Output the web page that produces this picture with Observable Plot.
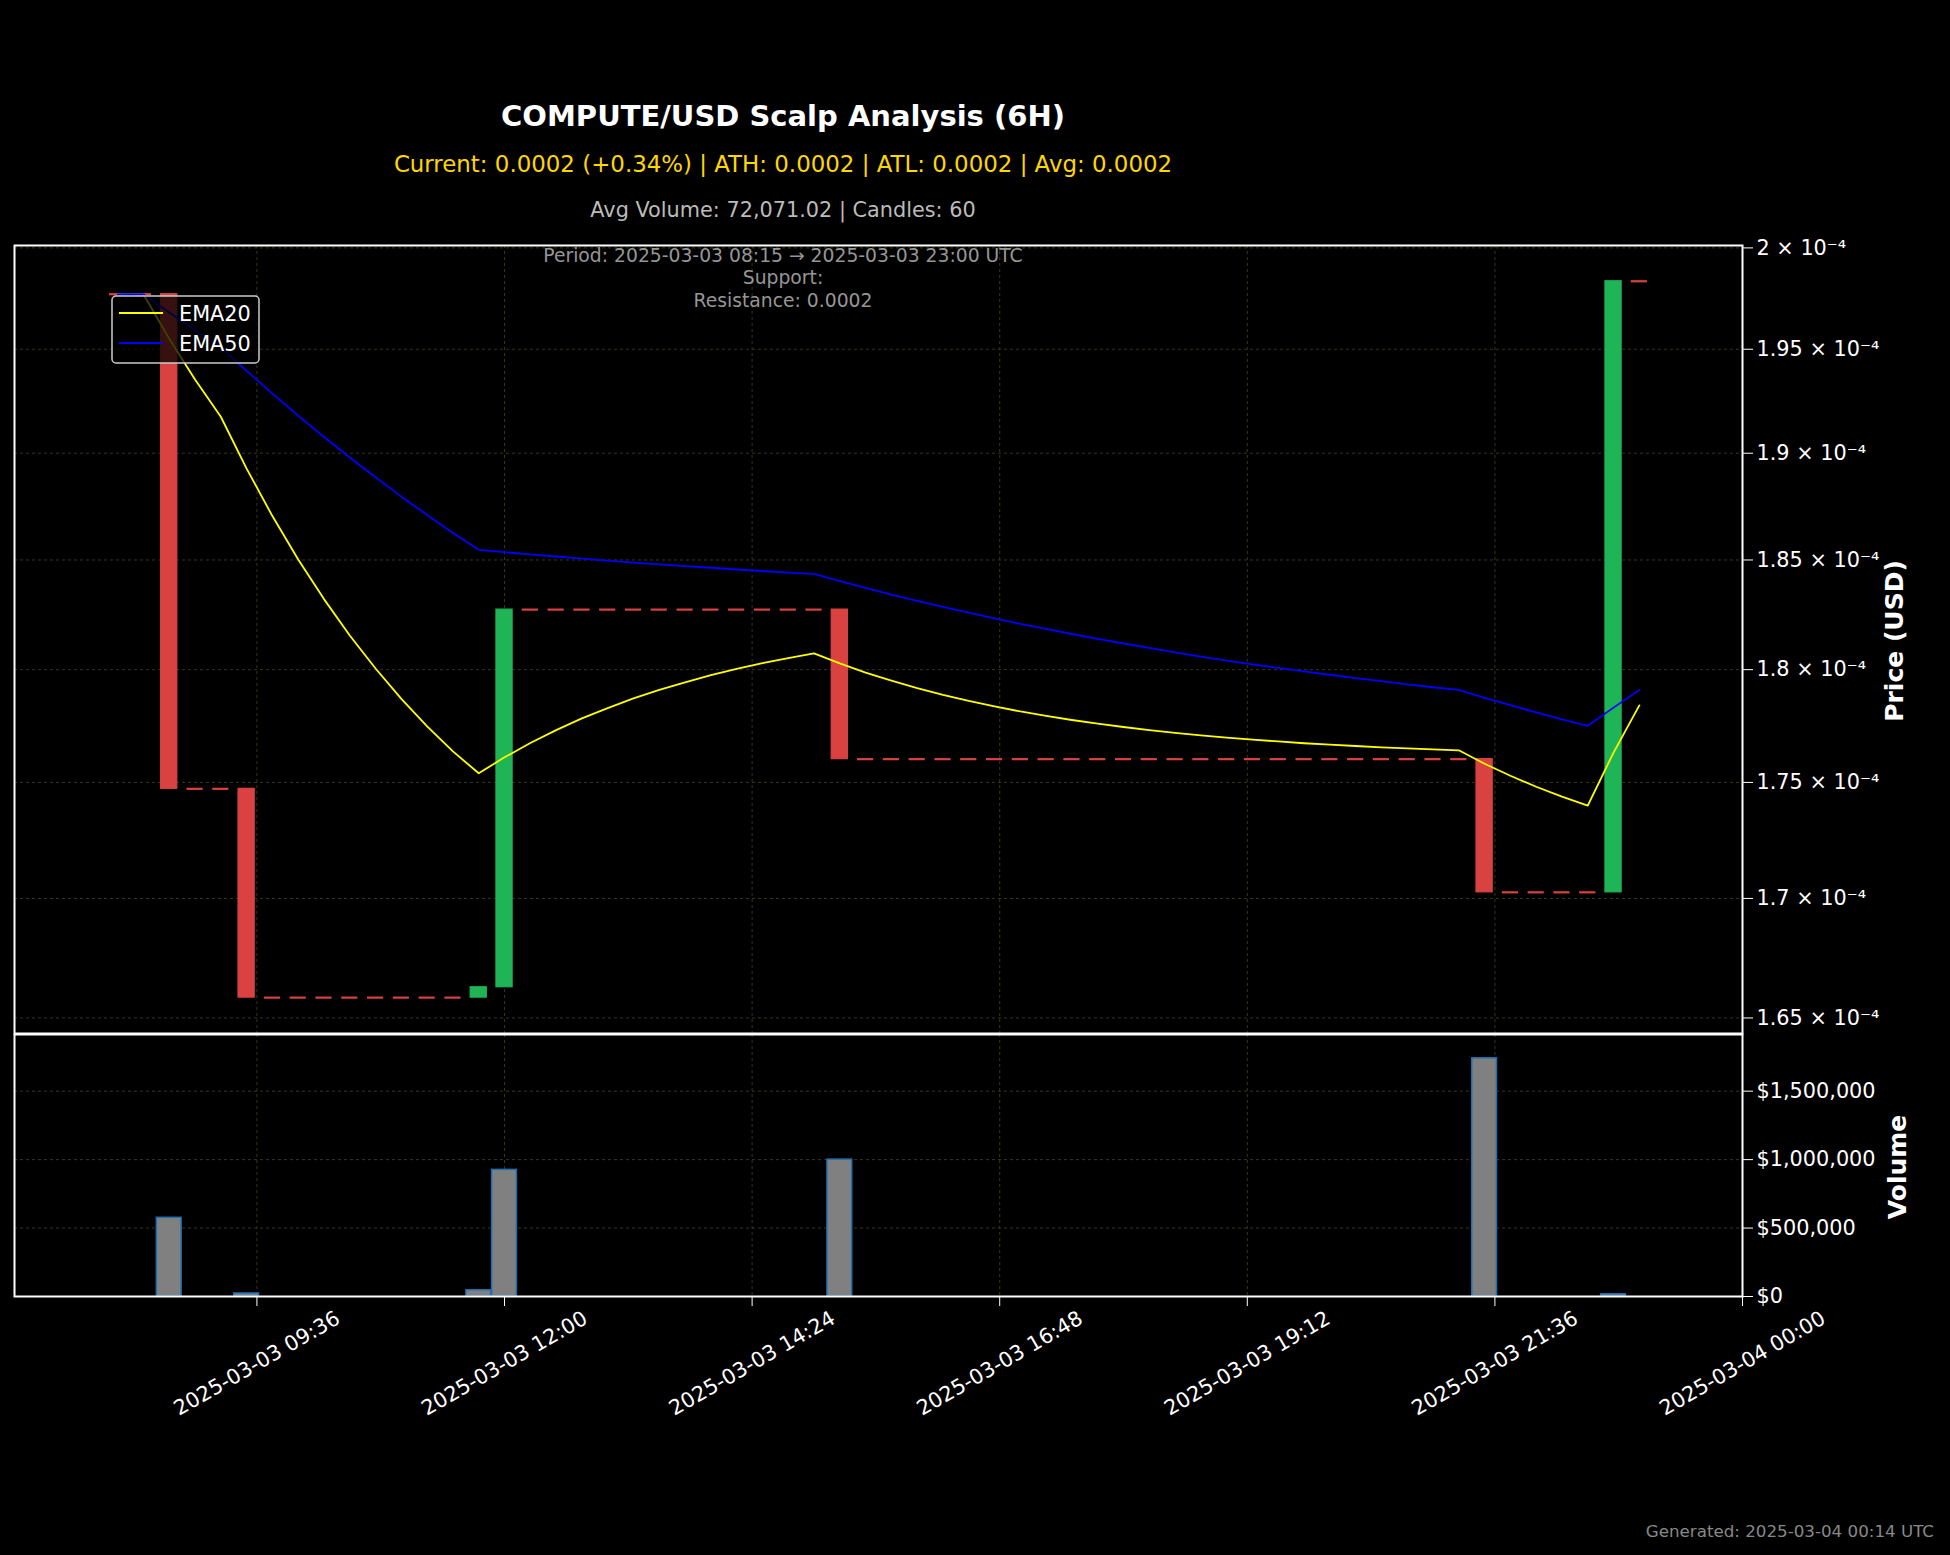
<!DOCTYPE html>
<html><head><meta charset="utf-8">
<script src="https://cdn.jsdelivr.net/npm/d3@7"></script>
<script src="https://cdn.jsdelivr.net/npm/@observablehq/plot@0.6"></script>
<style>
html,body{margin:0;padding:0;background:#000;}
#chart{position:relative;width:1950px;height:1555px;background:#000;overflow:hidden;font-family:"DejaVu Sans",sans-serif;}
#chart svg{position:absolute;left:0;}
</style></head><body><div id="chart"></div>
<script>
// ---------- data (prices in units of 1e-4 USD) ----------
const START = "2025-03-03T08:15:00Z";
const END_EXCL = "2025-03-03T23:15:00Z";
const opens = [
  1.9770,1.9770,1.9770,1.7472,1.7472,1.7472,1.6584,1.6584,1.6584,1.6584,
  1.6584,1.6584,1.6584,1.6584,1.6584,1.6627,1.8272,1.8272,1.8272,1.8272,
  1.8272,1.8272,1.8272,1.8272,1.8272,1.8272,1.8272,1.8272,1.8272,1.7602,
  1.7602,1.7602,1.7602,1.7602,1.7602,1.7602,1.7602,1.7602,1.7602,1.7602,
  1.7602,1.7602,1.7602,1.7602,1.7602,1.7602,1.7602,1.7602,1.7602,1.7602,
  1.7602,1.7602,1.7602,1.7602,1.7026,1.7026,1.7026,1.7026,1.7026,1.9834];
const closes = [
  1.9770,1.9770,1.7472,1.7472,1.7472,1.6584,1.6584,1.6584,1.6584,1.6584,
  1.6584,1.6584,1.6584,1.6584,1.6627,1.8272,1.8272,1.8272,1.8272,1.8272,
  1.8272,1.8272,1.8272,1.8272,1.8272,1.8272,1.8272,1.8272,1.7602,1.7602,
  1.7602,1.7602,1.7602,1.7602,1.7602,1.7602,1.7602,1.7602,1.7602,1.7602,
  1.7602,1.7602,1.7602,1.7602,1.7602,1.7602,1.7602,1.7602,1.7602,1.7602,
  1.7602,1.7602,1.7602,1.7026,1.7026,1.7026,1.7026,1.7026,1.9834,1.9834];
const ema20 = [
  1.9770,1.9770,1.9551,1.9353,1.9174,1.8927,1.8704,1.8502,1.8320,1.8154,
  1.8005,1.7869,1.7747,1.7636,1.7540,1.7610,1.7673,1.7730,1.7782,1.7828,
  1.7871,1.7909,1.7943,1.7975,1.8003,1.8029,1.8052,1.8073,1.8028,1.7987,
  1.7951,1.7917,1.7887,1.7860,1.7836,1.7813,1.7793,1.7775,1.7759,1.7744,
  1.7730,1.7718,1.7707,1.7697,1.7688,1.7680,1.7672,1.7666,1.7660,1.7654,
  1.7649,1.7645,1.7641,1.7582,1.7529,1.7481,1.7438,1.7399,1.7631,1.7840];
const ema50 = [
  1.9770,1.9770,1.9680,1.9593,1.9510,1.9395,1.9285,1.9179,1.9077,1.8980,
  1.8886,1.8795,1.8709,1.8625,1.8547,1.8536,1.8526,1.8516,1.8506,1.8497,
  1.8488,1.8480,1.8472,1.8464,1.8456,1.8449,1.8442,1.8436,1.8403,1.8371,
  1.8341,1.8312,1.8284,1.8258,1.8232,1.8207,1.8184,1.8161,1.8139,1.8118,
  1.8098,1.8078,1.8059,1.8041,1.8024,1.8008,1.7992,1.7977,1.7962,1.7948,
  1.7934,1.7921,1.7909,1.7874,1.7841,1.7809,1.7778,1.7749,1.7830,1.7909];
const volumes = [
  0,0,575000,0,0,22000,0,0,0,0,
  0,0,0,0,46000,925000,0,0,0,0,
  0,0,0,0,0,0,0,0,1000000,0,
  0,0,0,0,0,0,0,0,0,0,
  0,0,0,0,0,0,0,0,0,0,
  0,0,0,1740000,0,0,0,0,16261,0];

const yTicks = [1.65e-4,1.7e-4,1.75e-4,1.8e-4,1.85e-4,1.9e-4,1.95e-4,2e-4];
const yTickLabels = ["1.65 × 10⁻⁴","1.7 × 10⁻⁴","1.75 × 10⁻⁴","1.8 × 10⁻⁴","1.85 × 10⁻⁴","1.9 × 10⁻⁴","1.95 × 10⁻⁴","2 × 10⁻⁴"];
const volTicks = [0, 500000, 1000000, 1500000];
const volTickLabels = ["$0","$500,000","$1,000,000","$1,500,000"];
const xTickStrings = ["2025-03-03T09:36:00Z","2025-03-03T12:00:00Z","2025-03-03T14:24:00Z","2025-03-03T16:48:00Z","2025-03-03T19:12:00Z","2025-03-03T21:36:00Z","2025-03-04T00:00:00Z"];
const xTickLabels = ["2025-03-03 09:36","2025-03-03 12:00","2025-03-03 14:24","2025-03-03 16:48","2025-03-03 19:12","2025-03-03 21:36","2025-03-04 00:00"];

const titleText = "COMPUTE/USD Scalp Analysis (6H)";
const subText = "Current: 0.0002 (+0.34%) | ATH: 0.0002 | ATL: 0.0002 | Avg: 0.0002";
const infoText = "Avg Volume: 72,071.02 | Candles: 60";
const periodLines = ["Period: 2025-03-03 08:15 → 2025-03-03 23:00 UTC", "Support: ", "Resistance: 0.0002"];
const genText = "Generated: 2025-03-04 00:14 UTC";

// ---------- build ----------
const U = 1e-4;
const MIN = 60000;
const BODY_HALF = 4.7 * MIN, VOL_HALF = 7.2 * MIN;
const xDomain = [new Date("2025-03-03T07:15:00Z"), new Date("2025-03-04T00:00:00Z")];
const priceDomain = [1.6436e-4, 2.0012e-4];
const VOL_MAX = 1.914e6;
const times = d3.utcMinute.every(15).range(new Date(START), new Date(END_EXCL));
const candles = times.map((t, i) => ({
  t, open: opens[i] * U, close: closes[i] * U, e20: ema20[i] * U, e50: ema50[i] * U, vol: volumes[i]
}));
const xTicks = xTickStrings.map(s => new Date(s));
const yLabelMap = new Map(yTicks.map((d, i) => [d, yTickLabels[i]]));
const vLabelMap = new Map(volTicks.map((d, i) => [d, volTickLabels[i]]));
const xLabels = xTicks.map((t, i) => ({t, label: xTickLabels[i]}));

const RED = "#da4242", GREEN = "#1fb455", GRID = "#3a3618";
const FONT = "DejaVu Sans, sans-serif";
const bx1 = d => new Date(+d.t - BODY_HALF), bx2 = d => new Date(+d.t + BODY_HALF);
const vx1 = d => new Date(+d.t - VOL_HALF), vx2 = d => new Date(+d.t + VOL_HALF);

const price = Plot.plot({
  width: 1950, height: 1034,
  marginTop: 245, marginBottom: 1, marginLeft: 14, marginRight: 208,
  style: {background: "transparent", color: "white", fontFamily: FONT, fontSize: "20.8px", overflow: "visible"},
  x: {type: "utc", domain: xDomain, axis: null},
  y: {type: "log", domain: priceDomain, axis: null},
  marks: [
    Plot.gridY(yTicks, {stroke: GRID, strokeOpacity: 1, strokeDasharray: "3,3"}),
    Plot.gridX(xTicks, {stroke: GRID, strokeOpacity: 1, strokeDasharray: "3,3"}),
    Plot.rect(candles.filter(d => d.close > d.open), {x1: bx1, x2: bx2, y1: "open", y2: "close", fill: GREEN, stroke: GREEN, strokeWidth: 1.2}),
    Plot.rect(candles.filter(d => d.close < d.open), {x1: bx1, x2: bx2, y1: "open", y2: "close", fill: RED, stroke: RED, strokeWidth: 1.2}),
    Plot.ruleY(candles.filter(d => d.close === d.open), {x1: bx1, x2: bx2, y: "close", stroke: RED, strokeWidth: 2.2}),
    Plot.line(candles, {x: "t", y: "e20", stroke: "#ffff00", strokeWidth: 1.8}),
    Plot.line(candles, {x: "t", y: "e50", stroke: "#0000ff", strokeWidth: 1.8}),
    Plot.frame({stroke: "white", strokeWidth: 2}),
    Plot.axisY(yTicks, {anchor: "right", label: null, tickSize: 10, tickPadding: 4, tickFormat: d => yLabelMap.get(d), fontSize: 20.8, textAnchor: "start"})
  ]
});

const vol = Plot.plot({
  width: 1950, height: 522,
  marginTop: 1, marginBottom: 259, marginLeft: 14, marginRight: 208,
  style: {background: "transparent", color: "white", fontFamily: FONT, fontSize: "20.8px", overflow: "visible"},
  x: {type: "utc", domain: xDomain, axis: null},
  y: {domain: [0, VOL_MAX], axis: null},
  marks: [
    Plot.gridY(volTicks.filter(d => d > 0), {stroke: GRID, strokeOpacity: 1, strokeDasharray: "3,3"}),
    Plot.gridX(xTicks, {stroke: GRID, strokeOpacity: 1, strokeDasharray: "3,3"}),
    Plot.rect(candles.filter(d => d.vol > 0), {x1: vx1, x2: vx2, y1: 0, y2: "vol", fill: "#808080", stroke: "#1f6fb2", strokeWidth: 1.5}),
    Plot.frame({stroke: "white", strokeWidth: 2}),
    Plot.axisY(volTicks, {anchor: "right", label: null, tickSize: 10, tickPadding: 4, tickFormat: d => vLabelMap.get(d), fontSize: 20.8, textAnchor: "start"}),
    Plot.axisX(xTicks, {anchor: "bottom", label: null, tickSize: 10, tickFormat: () => ""}),
    Plot.text(xLabels, {x: "t", text: "label", frameAnchor: "bottom", dy: 67, rotate: -30, textAnchor: "middle", lineAnchor: "middle", fontSize: 20.8, fill: "white"})
  ]
});

const chart = document.getElementById("chart");
price.style.top = "0px";
vol.style.top = "1033px";
chart.appendChild(price);
chart.appendChild(vol);

// ---------- overlay texts & legend ----------
const ov = d3.create("svg").attr("width", 1950).attr("height", 1555)
  .style("top", "0px").style("position", "absolute").style("pointer-events", "none")
  .attr("font-family", FONT);
ov.append("text").attr("x", 783).attr("y", 126).attr("text-anchor", "middle")
  .attr("font-size", 29).attr("font-weight", "bold").attr("fill", "white").text(titleText);
ov.append("text").attr("x", 783).attr("y", 172).attr("text-anchor", "middle")
  .attr("font-size", 22.9).attr("fill", "#ffd700").text(subText);
ov.append("text").attr("x", 783).attr("y", 216.5).attr("text-anchor", "middle")
  .attr("font-size", 20.8).attr("fill", "#bbbbbb").text(infoText);
periodLines.forEach((s, i) => {
  ov.append("text").attr("x", 783).attr("y", 262 + i * 22.3).attr("text-anchor", "middle")
    .attr("font-size", 18.75).attr("fill", "#969696").text(s);
});
ov.append("text").attr("x", 1934).attr("y", 1537).attr("text-anchor", "end")
  .attr("font-size", 16.7).attr("fill", "#888888").text(genText);
ov.append("text").attr("transform", "translate(1894,641) rotate(-90)").attr("text-anchor", "middle")
  .attr("dominant-baseline", "central").attr("font-size", 25).attr("font-weight", "bold").attr("fill", "white").text("Price (USD)");
ov.append("text").attr("transform", "translate(1897,1167) rotate(-90)").attr("text-anchor", "middle")
  .attr("dominant-baseline", "central").attr("font-size", 25).attr("font-weight", "bold").attr("fill", "white").text("Volume");
// legend
const lg = ov.append("g");
lg.append("rect").attr("x", 112).attr("y", 296).attr("width", 147).attr("height", 67).attr("rx", 4)
  .attr("fill", "black").attr("fill-opacity", 0.75).attr("stroke", "#cccccc").attr("stroke-width", 1.5);
[["EMA20", "#ffff00", 313, 321], ["EMA50", "#0000ff", 343, 351]].forEach(([lab, col, ly, ty]) => {
  lg.append("line").attr("x1", 119).attr("x2", 163).attr("y1", ly).attr("y2", ly).attr("stroke", col).attr("stroke-width", 2);
  lg.append("text").attr("x", 179).attr("y", ty).attr("font-size", 20.8).attr("fill", "white").text(lab);
});
chart.appendChild(ov.node());
</script></body></html>
